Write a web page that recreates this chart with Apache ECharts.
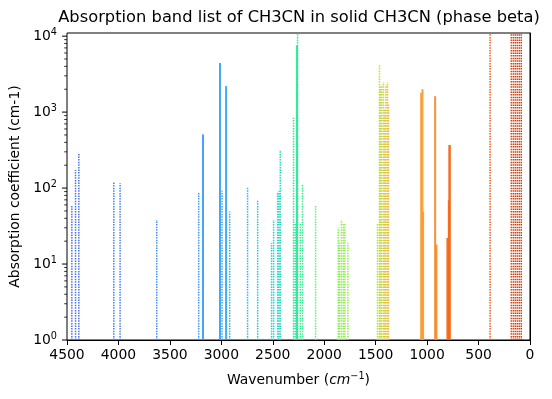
<!DOCTYPE html>
<html>
<head>
<meta charset="utf-8">
<script src="https://cdn.jsdelivr.net/npm/echarts@6/dist/echarts.min.js"></script>
<style>html,body{margin:0;padding:0;background:#fff;}#c{width:552px;height:399px;}</style>
</head>
<body>
<div id="c"></div>
<script>
// ---- data ----
const strongWavenumbers = [3178, 3013, 2954, 2265, 1058, 1045, 1039, 922, 910, 803, 789, 783, 780];
const strongCoefficients = [509, 4415, 2198, 7600, 1795, 2000, 49, 1620, 18, 22, 69, 368, 368];

const weakWavenumbers = [4453, 4417, 4385, 4045, 3984, 3628, 3220, 2993, 2919, 2745, 2647, 2512, 2492, 2453, 2440, 2427,
  2298, 2282, 2259, 2233, 2211, 2084, 1864, 1851, 1832, 1813, 1799, 1770,
  1482, 1463, 1456, 1442, 1424, 1412, 1400, 1385, 1375, 388, 182, 162, 143, 124, 104, 85];
const weakCoefficients = [58, 173, 290, 120, 116, 38, 87, 92, 49, 104, 69, 19, 38, 87, 92, 316,
  841, 34, 20000, 34, 110, 58, 30, 19, 38, 34, 34, 19,
  34, 4150, 2150, 2300, 2500, 1100, 2300, 2500, 1300, 20000, 20000, 20000, 20000, 20000, 20000, 20000];

const xTicks = [4500, 4000, 3500, 3000, 2500, 2000, 1500, 1000, 500, 0];
const yMajorTicks = [1, 10, 100, 1000, 10000];

// ---- styling helpers ----
const colorStops = [[4500,'#4a70e4'],[3600,'#4490f5'],[3000,'#39a2fc'],[2500,'#1fcfd0'],[2265,'#2ae898'],
  [2080,'#61f46c'],[1830,'#8cef48'],[1470,'#b4e030'],[1400,'#e4c03a'],[1060,'#f9a032'],[920,'#f98b2a'],
  [790,'#f36a1c'],[390,'#ee5c16'],[80,'#d63a08']];
function hex2rgb(h){return [parseInt(h.substr(1,2),16),parseInt(h.substr(3,2),16),parseInt(h.substr(5,2),16)];}
function bandColor(wn){
  if (wn >= colorStops[0][0]) return colorStops[0][1];
  for (let i=0;i<colorStops.length-1;i++){
    const a=colorStops[i], b=colorStops[i+1];
    if (wn<=a[0] && wn>=b[0]){
      const t=(a[0]-wn)/(a[0]-b[0]); const ca=hex2rgb(a[1]), cb=hex2rgb(b[1]);
      const c=ca.map((v,k)=>Math.round(v+(cb[k]-v)*t));
      return 'rgb('+c.join(',')+')';
    }
  }
  return colorStops[colorStops.length-1][1];
}
const minorTicks = [];
yMajorTicks.forEach(d => { for (let m=1;m<=9;m++){ const v=d*m; if (v<=11000) minorTicks.push([4500, v, m===1?1:0]); } });

const strongData = strongWavenumbers.map((w,i)=>[w, strongCoefficients[i]]);
const weakData = weakWavenumbers.map((w,i)=>[w, weakCoefficients[i]]);

function bandRenderer(solid){
  return function(params, api){
    const wn = api.value(0), v = api.value(1);
    const p0 = api.coord([wn, 1]);
    const p1 = api.coord([wn, v]);
    return {
      type: 'line',
      shape: {x1: p0[0], y1: p0[1], x2: p1[0], y2: p1[1]},
      style: solid ? {stroke: bandColor(wn), lineWidth: 2, opacity: 0.95}
                   : {stroke: bandColor(wn), lineWidth: 1.5, lineDash: [1.5, 1.1], opacity: 1}
    };
  };
}

const FONT = 'DejaVu Sans';
const chart = echarts.init(document.getElementById('c'), null, {renderer: 'canvas'});
chart.setOption({
  animation: false,
  backgroundColor: '#fff',
  title: {
    text: 'Absorption band list of CH3CN in solid CH3CN (phase beta)',
    left: 294, top: 5, textAlign: 'center',
    textStyle: {fontFamily: FONT, fontSize: 16.3, fontWeight: 'normal', color: '#000'}
  },
  grid: {left: 66, right: 22, top: 33, bottom: 59, show: true, borderColor: '#000', borderWidth: 1, containLabel: false},
  xAxis: {
    type: 'value', min: 0, max: 4500, interval: 500, inverse: true,
    splitLine: {show: false},
    axisLine: {show: true, onZero: false, lineStyle: {color: '#000', width: 1}},
    axisTick: {show: true, length: 5, lineStyle: {color: '#000', width: 1}},
    axisLabel: {fontFamily: FONT, fontSize: 13.9, color: '#000', margin: 8,
      formatter: v => xTicks.indexOf(v) >= 0 ? String(v) : ''},
    name: '{n|Wavenumber (}{i|cm}{s|−1}{n|)}',
    nameLocation: 'middle', nameGap: 31,
    nameTextStyle: {fontFamily: FONT, fontSize: 13.9, color: '#000',
      rich: {
        n: {fontFamily: FONT, fontSize: 13.9, color: '#000'},
        i: {fontFamily: FONT, fontSize: 13.9, fontStyle: 'italic', color: '#000'},
        s: {fontFamily: FONT, fontSize: 9.7, color: '#000', padding: [0,0,8,0]}
      }}
  },
  yAxis: {
    type: 'log', logBase: 10, min: 1, max: 11000,
    splitLine: {show: false},
    axisLine: {show: true, lineStyle: {color: '#000', width: 1}},
    axisTick: {show: false},
    axisLabel: {
      fontFamily: FONT, fontSize: 13.9, color: '#000', margin: 10, showMaxLabel: false,
      formatter: function(v){
        const e = Math.log10(v);
        if (Math.abs(e - Math.round(e)) > 1e-6) return '';
        if (yMajorTicks.indexOf(Math.round(v)) < 0) return '';
        return '{b|10}{s|' + Math.round(e) + '}';
      },
      rich: {
        b: {fontFamily: FONT, fontSize: 13.9, color: '#000'},
        s: {fontFamily: FONT, fontSize: 9.7, color: '#000', padding: [0,0,8,0]}
      }
    },
    name: 'Absorption coefficient (cm-1)',
    nameLocation: 'middle', nameGap: 45,
    nameTextStyle: {fontFamily: FONT, fontSize: 13.9, color: '#000'}
  },
  series: [
    {type: 'custom', name: 'weak', data: weakData, encode: {x: 0, y: 1}, clip: true, silent: true,
     renderItem: bandRenderer(false)},
    {type: 'custom', name: 'strong', data: strongData, encode: {x: 0, y: 1}, clip: true, silent: true,
     renderItem: bandRenderer(true)},
    {type: 'custom', name: 'yticks', data: minorTicks, encode: {x: 0, y: 1}, clip: false, silent: true,
     renderItem: function(params, api){
       const p = api.coord([api.value(0), api.value(1)]);
       const len = api.value(2) ? 5 : 2.8;
       return {type: 'line', shape: {x1: p[0] - len, y1: p[1], x2: p[0], y2: p[1]},
               style: {stroke: '#000', lineWidth: api.value(2) ? 1 : 0.8}};
     }}
  ]
});
</script>
</body>
</html>
